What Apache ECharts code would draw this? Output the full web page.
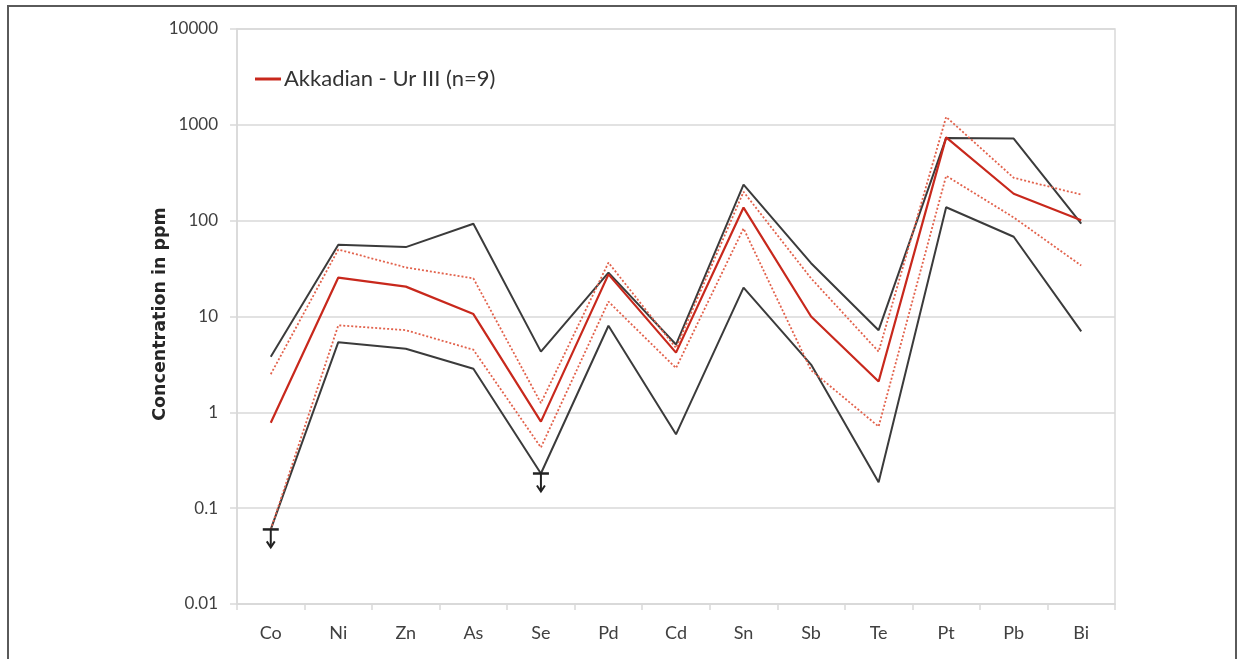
<!DOCTYPE html>
<html>
<head>
<meta charset="utf-8">
<script src="https://cdn.jsdelivr.net/npm/echarts@6/dist/echarts.min.js"></script>
<style>
html,body{margin:0;padding:0;background:#fff;}
#chart{width:1243px;height:659px;}
</style>
</head>
<body>
<div id="chart"></div>
<script>
// ---- data ----
const categories = ['Co','Ni','Zn','As','Se','Pd','Cd','Sn','Sb','Te','Pt','Pb','Bi'];
const yTickLabels = ['0.01','0.1','1','10','100','1000','10000'];
const legendName = 'Akkadian - Ur III (n=9)';
const yTitle = 'Concentration in ppm';
const meanValues   = [0.78, 25.5, 20.5, 10.6, 0.8, 27.5, 4.2, 137, 10, 2.1, 740, 191, 101];
const upperDotted  = [2.5, 50, 32.5, 25, 1.25, 36.5, 4.7, 200, 25, 4.3, 1210, 280, 187];
const lowerDotted  = [0.06, 8.1, 7.2, 4.5, 0.43, 14.3, 2.9, 83, 2.75, 0.71, 294, 108, 34];
const maxValues    = [3.8, 56, 53, 93, 4.3, 28.7, 5.1, 238, 36, 7.2, 730, 720, 93];
const minValues    = [0.06, 5.4, 4.6, 2.85, 0.23, 8, 0.59, 20, 3.15, 0.186, 138, 68, 7];
const belowLimit   = [['Co', 0.06], ['Se', 0.23]];

const chart = echarts.init(document.getElementById('chart'));
const FONT = 'Lato, "Open Sans", sans-serif';
const BLACK = '#3b3b3b';
const RED = '#c8281c';
const RED_DOT = '#e2624c';

const option = {
  animation: false,
  backgroundColor: '#ffffff',
  grid: { left: 237, right: 128, top: 29, bottom: 55, show: true, borderColor: '#d9d9d9', borderWidth: 1.5 },
  legend: {
    data: [{ name: legendName, icon: 'rect' }],
    left: 255, top: 68, padding: 0,
    itemWidth: 26, itemHeight: 3, itemGap: 4,
    textStyle: { fontFamily: FONT, fontSize: 22, color: '#333', padding: [0, 0, 0, -2] }
  },
  xAxis: {
    type: 'category',
    data: categories,
    boundaryGap: true,
    axisLine: { lineStyle: { color: '#d9d9d9', width: 1.5 } },
    axisTick: { show: true, length: 6, lineStyle: { color: '#d9d9d9', width: 1.5 } },
    axisLabel: { margin: 20, fontFamily: FONT, fontSize: 18, color: '#404040' },
    splitLine: { show: false }
  },
  yAxis: {
    type: 'log',
    logBase: 10,
    min: 0.01, max: 10000,
    axisLine: { show: true, lineStyle: { color: '#d9d9d9', width: 1.5 } },
    axisTick: { show: true, inside: false, length: 7, lineStyle: { color: '#d9d9d9', width: 1.5 } },
    axisLabel: {
      margin: 19, fontFamily: FONT, fontSize: 17, color: '#404040',
      formatter: function (v) {
        const i = Math.round(Math.log10(v)) + 2;
        return yTickLabels[i] !== undefined ? yTickLabels[i] : '';
      }
    },
    splitLine: { show: true, lineStyle: { color: '#d9d9d9', width: 1.5 } }
  },
  graphic: [{
    type: 'rect',
    shape: { x: 8, y: 6, width: 1228, height: 700 },
    style: { fill: 'none', stroke: '#5a5a5a', lineWidth: 2 },
    silent: true
  }, {
    type: 'text',
    x: 160, y: 314,
    rotation: Math.PI / 2,
    style: {
      text: yTitle,
      fontFamily: '"DejaVu Sans", Verdana, sans-serif',
      fontWeight: 'bold', fontSize: 17.5, fill: '#262626',
      align: 'center', verticalAlign: 'middle'
    },
    silent: true
  }],
  series: [
    { name: 'max', type: 'line', data: maxValues, symbol: 'none', lineStyle: { color: BLACK, width: 2 }, z: 2 },
    { name: 'min', type: 'line', data: minValues, symbol: 'none', lineStyle: { color: BLACK, width: 2 }, z: 2 },
    { name: 'upper', type: 'line', data: upperDotted, symbol: 'none', lineStyle: { color: RED_DOT, width: 1.8, type: [2, 2] }, z: 3 },
    { name: 'lower', type: 'line', data: lowerDotted, symbol: 'none', lineStyle: { color: RED_DOT, width: 1.8, type: [2, 2] }, z: 3 },
    { name: legendName, type: 'line', data: meanValues, symbol: 'none', color: RED, lineStyle: { color: RED, width: 2.2 }, z: 4 },
    {
      name: 'below detection', type: 'custom', data: belowLimit, z: 5,
      renderItem: function (params, api) {
        const p = api.coord([api.value(0), api.value(1)]);
        const x = p[0], y = p[1];
        const st = { stroke: '#222', lineWidth: 2, fill: 'none' };
        return {
          type: 'group',
          children: [
            { type: 'line', shape: { x1: x - 8, y1: y, x2: x + 8, y2: y }, style: { stroke: '#222', lineWidth: 2.5 } },
            { type: 'line', shape: { x1: x, y1: y, x2: x, y2: y + 17 }, style: st },
            { type: 'polyline', shape: { points: [[x - 4, y + 12], [x, y + 18], [x + 4, y + 12]] }, style: st }
          ]
        };
      }
    }
  ]
};
chart.setOption(option);
</script>
</body>
</html>
